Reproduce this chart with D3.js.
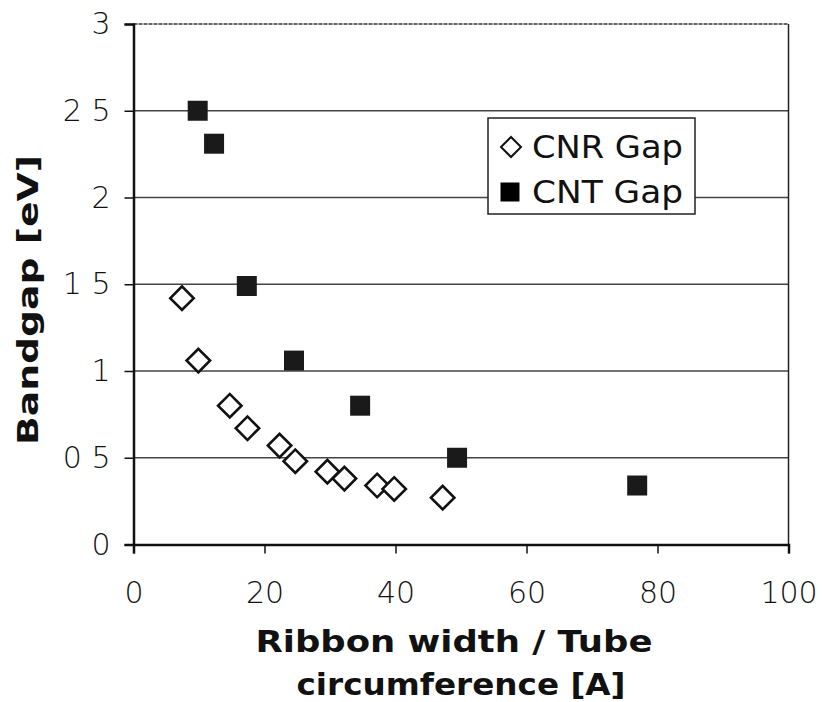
<!DOCTYPE html>
<html>
<head>
<meta charset="utf-8">
<script src="https://cdn.jsdelivr.net/npm/d3@7"></script>
<style>
  body { margin: 0; background: #fff; }
  svg text { font-family: "DejaVu Sans", Verdana, sans-serif; fill: #111; }
</style>
</head>
<body>
<div id="chart"></div>
<script>
// values
const cnrWidth = [7.4, 9.9, 14.7, 17.4, 22.3, 24.7, 29.6, 32.2, 37.2, 39.8, 47.2];
const cnrGap = [1.42, 1.06, 0.8, 0.67, 0.57, 0.48, 0.42, 0.38, 0.34, 0.32, 0.27];
const cntCirc = [9.8, 12.3, 17.3, 24.5, 34.6, 49.4, 76.9];
const cntGap = [2.5, 2.31, 1.49, 1.06, 0.8, 0.5, 0.34];
const yTicks = [0, 0.5, 1, 1.5, 2, 2.5, 3];
const yTickLabels = ["0", "0 5", "1", "1 5", "2", "2 5", "3"];
const xTicks = [0, 20, 40, 60, 80, 100];
const seriesNames = ["CNR Gap", "CNT Gap"];

const w = 822;
const h = 702;
const svg = d3.select("#chart").append("svg").attr("width", w).attr("height", h);

const x = d3.scaleLinear().domain([0, 100]).range([133.5, 788.5]);
const y = d3.scaleLinear().domain([0, 3]).range([544.5, 24]);

// gridlines
svg
  .append("g")
  .selectAll("line")
  .data(yTicks.filter((d) => d > 0 && d < 3))
  .enter()
  .append("line")
  .attr("x1", x(0))
  .attr("x2", x(100))
  .attr("y1", (d) => y(d))
  .attr("y2", (d) => y(d))
  .attr("stroke", "#444")
  .attr("stroke-width", 1.6);

// top and right border
svg
  .append("line")
  .attr("x1", x(0))
  .attr("x2", x(100))
  .attr("y1", y(3))
  .attr("y2", y(3))
  .attr("stroke", "#333")
  .attr("stroke-width", 1.5)
  .attr("stroke-dasharray", "4,1");
svg
  .append("line")
  .attr("x1", x(100))
  .attr("x2", x(100))
  .attr("y1", y(3))
  .attr("y2", y(0))
  .attr("stroke", "#222")
  .attr("stroke-width", 1.5);

// y axis
const yAxis = d3
  .axisLeft(y)
  .tickValues(yTicks)
  .tickSize(9)
  .tickPadding(14)
  .tickFormat((d, i) => yTickLabels[i]);
const gy = svg.append("g").attr("transform", "translate(" + x(0) + ",0)").call(yAxis);
gy.select(".domain").attr("stroke", "#111").attr("stroke-width", 2.5);
gy.selectAll(".tick line").attr("stroke", "#111").attr("stroke-width", 1.5);
gy.selectAll(".tick text")
  .attr("font-size", 30)
  .attr("font-weight", 300)
  .attr("font-family", "'DejaVu Sans', sans-serif")
  .attr("fill", "#222");

// x axis
const xAxis = d3.axisBottom(x).tickValues(xTicks).tickSize(9).tickPadding(28);
const gx = svg.append("g").attr("transform", "translate(0," + y(0) + ")").call(xAxis);
gx.select(".domain").attr("stroke", "#111").attr("stroke-width", 2.5);
gx.selectAll(".tick line").attr("stroke", "#111").attr("stroke-width", 1.5);
gx.selectAll(".tick text")
  .attr("font-size", 30)
  .attr("font-weight", 300)
  .attr("font-family", "'DejaVu Sans', sans-serif")
  .attr("fill", "#222");

// CNR diamonds
const diamond = d3.symbol().type(d3.symbolSquare).size(275);
svg
  .append("g")
  .selectAll("path")
  .data(cnrWidth)
  .enter()
  .append("path")
  .attr("d", diamond)
  .attr("transform", (d, i) => "translate(" + x(d) + "," + y(cnrGap[i]) + ") rotate(45)")
  .attr("fill", "#fff")
  .attr("stroke", "#111")
  .attr("stroke-width", 2.6);

// CNT squares
const square = d3.symbol().type(d3.symbolSquare).size(400);
svg
  .append("g")
  .selectAll("path")
  .data(cntCirc)
  .enter()
  .append("path")
  .attr("d", square)
  .attr("transform", (d, i) => "translate(" + x(d) + "," + y(cntGap[i]) + ")")
  .attr("fill", "#1a1a1a");

// legend
const lg = svg.append("g").attr("transform", "translate(488,118)");
lg.append("rect")
  .attr("width", 207)
  .attr("height", 96)
  .attr("fill", "#fff")
  .attr("stroke", "#222")
  .attr("stroke-width", 1.5);
lg.append("path")
  .attr("d", d3.symbol().type(d3.symbolSquare).size(200))
  .attr("transform", "translate(23,29) rotate(45)")
  .attr("fill", "#fff")
  .attr("stroke", "#111")
  .attr("stroke-width", 2);
lg.append("path")
  .attr("d", d3.symbol().type(d3.symbolSquare).size(361))
  .attr("transform", "translate(22,74)");
lg.selectAll("text")
  .data(seriesNames)
  .enter()
  .append("text")
  .attr("x", 44)
  .attr("y", (d, i) => 40 + i * 45)
  .attr("font-size", 32)
  .attr("textLength", 151)
  .attr("lengthAdjust", "spacingAndGlyphs")
  .text((d) => d);

// axis titles
svg
  .append("text")
  .attr("transform", "translate(38,300) rotate(-90)")
  .attr("text-anchor", "middle")
  .attr("font-size", 29)
  .attr("font-weight", "bold")
  .attr("textLength", 290)
  .attr("lengthAdjust", "spacingAndGlyphs")
  .text("Bandgap [eV]");
svg
  .append("text")
  .attr("x", 454)
  .attr("y", 652)
  .attr("text-anchor", "middle")
  .attr("font-size", 30)
  .attr("font-weight", "bold")
  .attr("textLength", 397)
  .attr("lengthAdjust", "spacingAndGlyphs")
  .text("Ribbon width / Tube");
svg
  .append("text")
  .attr("x", 461)
  .attr("y", 695)
  .attr("text-anchor", "middle")
  .attr("font-size", 30)
  .attr("font-weight", "bold")
  .attr("textLength", 329)
  .attr("lengthAdjust", "spacingAndGlyphs")
  .text("circumference [A]");
</script>
</body>
</html>
